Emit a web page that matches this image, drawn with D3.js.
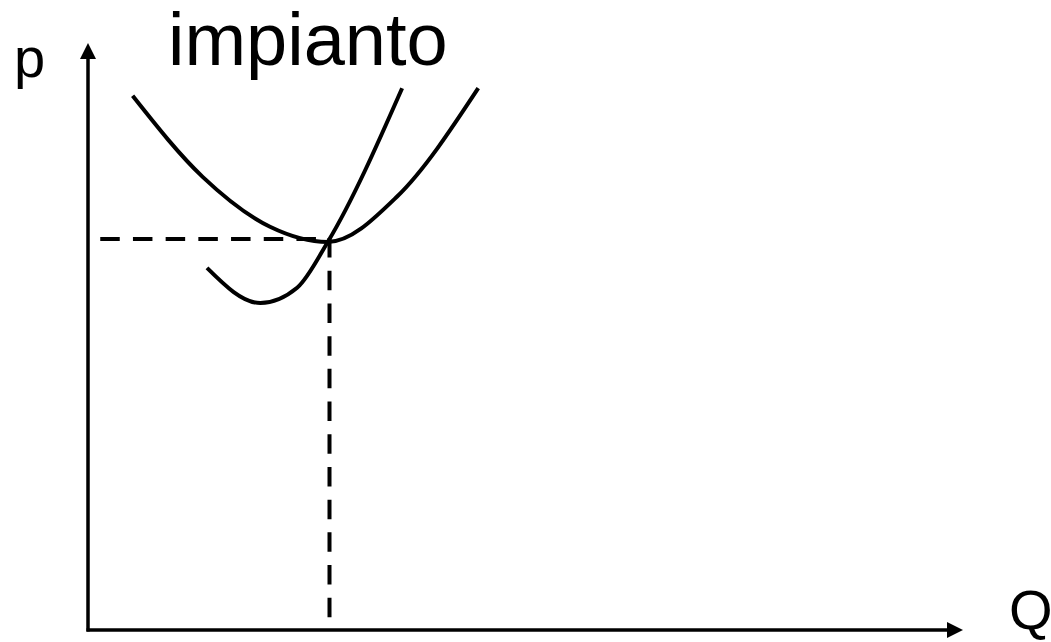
<!DOCTYPE html>
<html lang="it">
<head>
  <meta charset="UTF-8">
  <title>impianto</title>
  <script src="https://d3js.org/d3.v7.min.js"></script>
  <style>
  body {
    margin: 0;
    background: #fff;
  }
  text {
    font-family: "Liberation Sans", Arial, sans-serif;
    fill: #000;
  }
  .axis {
    fill: none;
    stroke: #000;
    stroke-width: 3.5px;
  }
  .curve {
    fill: none;
    stroke: #000;
    stroke-width: 4px;
  }
  .dash {
    fill: none;
    stroke: #000;
    stroke-width: 4px;
    stroke-dasharray: 19.5 13.2;
  }
  </style>
</head>
<body>
  <div class="container"></div>
  <script>
  // costo medio (curva a U), unita' arbitrarie 0..100
  var acQ = [5.1, 13.1, 20.8, 27.4, 35.3, 44.6];
  var acP = [91.0, 77.2, 68.7, 66.1, 73.8, 92.3];
  // costo marginale
  var mcQ = [13.6, 19.7, 23.9, 27.4, 35.9];
  var mcP = [61.7, 55.7, 58.3, 66.1, 92.3];
  // punto di minimo / equilibrio
  var eqQ = 27.6, eqP = 66.6, dashStartQ = 1.4;
  var title = "impianto", yLabel = "p", xLabel = "Q";

  var w = 1051, h = 642;
  var x0 = 88, x1 = 963, y0 = 630, y1 = 43;

  var xScale = d3.scaleLinear().domain([0, 100]).range([x0, x1]);
  var yScale = d3.scaleLinear().domain([0, 100]).range([y0, y1]);

  var svg = d3.select('.container')
      .append('svg')
      .attr('width', w)
      .attr('height', h);

  // assi
  svg.append('line').attr('class', 'axis')
     .attr('x1', xScale(0)).attr('y1', yScale(0) + 1.5)
     .attr('x2', xScale(0)).attr('y2', yScale(100) + 12);
  svg.append('line').attr('class', 'axis')
     .attr('x1', xScale(0) - 1.5).attr('y1', yScale(0))
     .attr('x2', xScale(100) - 12).attr('y2', yScale(0));
  // frecce
  svg.append('path')
     .attr('d', 'M' + xScale(0) + ',' + yScale(100) + 'l-8,16l16,0z');
  svg.append('path')
     .attr('d', 'M' + xScale(100) + ',' + yScale(0) + 'l-16,-8l0,16z');

  // linee tratteggiate
  svg.append('line').attr('class', 'dash')
     .attr('x1', xScale(dashStartQ)).attr('y1', yScale(eqP))
     .attr('x2', xScale(eqQ)).attr('y2', yScale(eqP));
  svg.append('line').attr('class', 'dash')
     .attr('x1', xScale(eqQ)).attr('y1', yScale(eqP) - 1)
     .attr('x2', xScale(eqQ)).attr('y2', yScale(0));

  var line_generator = d3.line()
      .x(function(d){ return xScale(d[0]); })
      .y(function(d){ return yScale(d[1]); })
      .curve(d3.curveMonotoneX);

  svg.append('path').attr('class', 'curve')
     .attr('d', line_generator(d3.zip(acQ, acP)));
  svg.append('path').attr('class', 'curve')
     .attr('d', line_generator(d3.zip(mcQ, mcP)));

  // testi
  svg.append('text').text(title)
     .attr('x', 168).attr('y', 65)
     .style('font-size', '74px');
  svg.append('text').text(yLabel)
     .attr('x', 14).attr('y', 77)
     .style('font-size', '56px');
  svg.append('text').text(xLabel)
     .attr('x', 1009).attr('y', 629)
     .style('font-size', '56px');
  </script>
</body>
</html>
